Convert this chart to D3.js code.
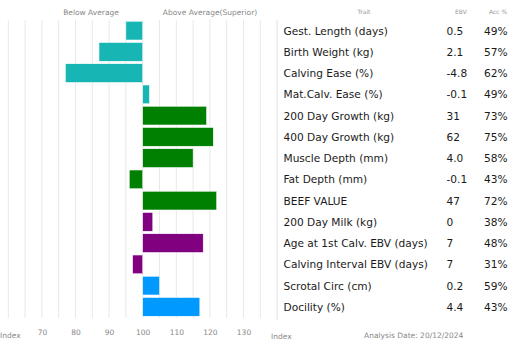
<!DOCTYPE html>
<html>
<head>
<meta charset="utf-8">
<script src="https://cdn.jsdelivr.net/npm/d3@7"></script>
<style>
  html, body { margin: 0; padding: 0; background: #fff; }
  svg { display: block; }
</style>
</head>
<body>
<svg id="chart" width="528" height="348"></svg>
<script>
// EBV trait table with index bars (100 = breed average)
const traits = [
  "Gest. Length (days)", "Birth Weight (kg)", "Calving Ease (%)", "Mat.Calv. Ease (%)",
  "200 Day Growth (kg)", "400 Day Growth (kg)", "Muscle Depth (mm)", "Fat Depth (mm)",
  "BEEF VALUE", "200 Day Milk (kg)", "Age at 1st Calv. EBV (days)",
  "Calving Interval EBV (days)", "Scrotal Circ (cm)", "Docility (%)"
];
const ebv = ["0.5", "2.1", "-4.8", "-0.1", "31", "62", "4.0", "-0.1", "47", "0", "7", "7", "0.2", "4.4"];
const accuracy = ["49%", "57%", "62%", "49%", "73%", "75%", "58%", "43%", "72%", "38%", "48%", "31%", "59%", "43%"];
const indexValues = [95, 87, 77, 102, 119, 121, 115, 96, 122, 103, 118, 97, 105, 117];
const groups = ["calving", "calving", "calving", "calving", "growth", "growth", "growth", "growth",
                "growth", "maternal", "maternal", "maternal", "other", "other"];
const axisTicks = [70, 80, 90, 100, 110, 120, 130];
const gridTicks = d3.range(60, 140, 5);

const groupColor = d3.scaleOrdinal()
  .domain(["calving", "growth", "maternal", "other"])
  .range(["#17b5b4", "#008000", "#800080", "#0099ff"]);

const svg = d3.select("#chart");
const x = d3.scaleLinear().domain([60, 140]).range([8.3, 277.1]);
const y = d3.scaleBand().domain(traits).range([20, 317.5]).paddingInner(0.12).paddingOuter(0.06);

// vertical grid
svg.append("g").selectAll("line").data(gridTicks).join("line")
  .attr("x1", d => x(d)).attr("x2", d => x(d))
  .attr("y1", 20).attr("y2", 318)
  .attr("stroke", "#e8e8e8").attr("stroke-width", 1);

// separator between bars and table
svg.append("line")
  .attr("x1", x(140)).attr("x2", x(140)).attr("y1", 20).attr("y2", 320)
  .attr("stroke", "#e0e0e0");

// bars
svg.append("g").selectAll("rect").data(traits).join("rect")
  .attr("x", (d, i) => x(Math.min(100, indexValues[i])))
  .attr("width", (d, i) => Math.abs(x(indexValues[i]) - x(100)))
  .attr("y", d => y(d))
  .attr("height", y.bandwidth())
  .attr("fill", (d, i) => groupColor(groups[i]))
  .attr("stroke", "#fff").attr("stroke-width", 0.5);

const small = "DejaVu Sans, Verdana, sans-serif";
const tableFont = "DejaVu Sans, Verdana, sans-serif";

// header
svg.append("text").attr("x", 91).attr("y", 15).attr("text-anchor", "middle")
  .attr("font-family", small).attr("font-size", 7.5).attr("fill", "#888").text("Below Average");
svg.append("text").attr("x", 210).attr("y", 15).attr("text-anchor", "middle")
  .attr("font-family", small).attr("font-size", 7.5).attr("fill", "#888").text("Above Average(Superior)");
svg.append("text").attr("x", 364).attr("y", 14).attr("text-anchor", "middle")
  .attr("font-family", small).attr("font-size", 6).attr("fill", "#999").text("Trait");
svg.append("text").attr("x", 461).attr("y", 14).attr("text-anchor", "middle")
  .attr("font-family", small).attr("font-size", 6).attr("fill", "#999").text("EBV");
svg.append("text").attr("x", 498).attr("y", 14).attr("text-anchor", "middle")
  .attr("font-family", small).attr("font-size", 6).attr("fill", "#999").text("Acc %");

// table rows
const rows = svg.append("g").selectAll("g").data(traits).join("g")
  .attr("transform", d => `translate(0,${y(d) + y.bandwidth() / 2})`);
rows.append("text").attr("x", 283.5).attr("dy", "0.38em")
  .attr("font-family", tableFont).attr("font-size", 10.6).attr("fill", "#1a1a1a").text(d => d);
rows.append("text").attr("x", 446.5).attr("dy", "0.38em")
  .attr("font-family", tableFont).attr("font-size", 10.6).attr("fill", "#1a1a1a").text((d, i) => ebv[i]);
rows.append("text").attr("x", 484).attr("dy", "0.38em")
  .attr("font-family", tableFont).attr("font-size", 10.6).attr("fill", "#1a1a1a").text((d, i) => accuracy[i]);

// bottom index axis
const axis = svg.append("g").attr("transform", "translate(0,322)")
  .call(d3.axisBottom(x).tickValues(axisTicks).tickSize(0).tickPadding(8));
axis.select(".domain").remove();
axis.selectAll("text").attr("font-family", small).attr("font-size", 7.5).attr("fill", "#888");

svg.append("text").attr("x", 0).attr("y", 337.5)
  .attr("font-family", small).attr("font-size", 7.5).attr("fill", "#888").text("Index");
svg.append("text").attr("x", 271).attr("y", 338.5)
  .attr("font-family", small).attr("font-size", 7.5).attr("fill", "#888").text("Index");
svg.append("text").attr("x", 364).attr("y", 337.5)
  .attr("font-family", small).attr("font-size", 7.5).attr("fill", "#888").text("Analysis Date: 20/12/2024");
</script>
</body>
</html>
